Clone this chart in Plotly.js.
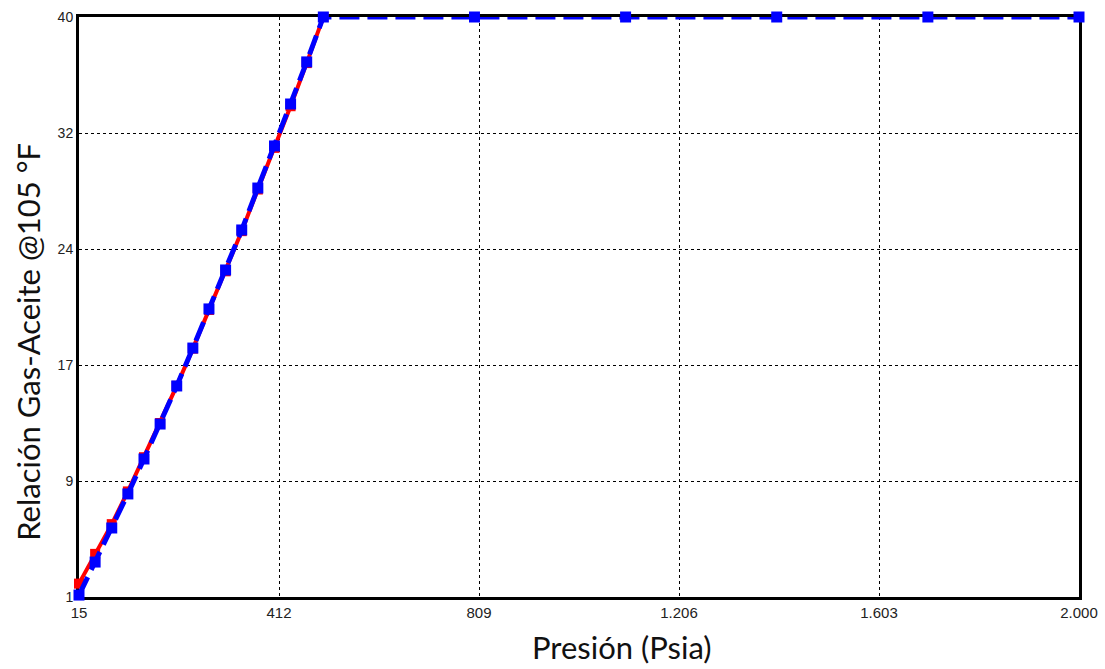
<!DOCTYPE html>
<html>
<head>
<meta charset="utf-8">
<script src="https://cdn.plot.ly/plotly-3.0.1.min.js"></script>
<style>html,body{margin:0;padding:0;background:#fff;}#chart{width:1105px;height:669px;}</style>
</head>
<body>
<div id="chart"></div>
<script>
const pressure = [15, 47, 80, 112, 144, 176, 209, 241, 273, 306, 338, 370, 403, 435, 467, 500, 800, 1100, 1400, 1700, 2000];
const redGOR  = [1.9, 3.9, 5.9, 8.1, 10.4, 12.7, 15.2, 17.7, 20.3, 22.9, 25.6, 28.4, 31.2, 34.0, 36.9, 40, 40, 40, 40, 40, 40];
const blueGOR = [1.13, 3.35, 5.64, 7.93, 10.28, 12.63, 15.19, 17.74, 20.37, 22.99, 25.68, 28.5, 31.33, 34.15, 36.98, 40, 40, 40, 40, 40, 40];
const xTickVals = [15, 412, 809, 1206, 1603, 2000];
const xTickText = ["15", "412", "809", "1.206", "1.603", "2.000"];
const yTickVals = [1, 8.8, 16.6, 24.4, 32.2, 40];
const yTickText = ["1", "9", "17", "24", "32", "40"];
const xTitle = 'Presión (Psia)';
const yTitle = 'Relación Gas-Aceite @105 °F';

// red series is hidden beneath the frame on the flat part; draw its rising part
const redX = pressure.filter(p => p <= 500);
const redY = redGOR.slice(0, redX.length);

const traces = [
  {x: redX, y: redY, type: 'scatter', mode: 'lines+markers',
   line: {color: '#ff0000', width: 4},
   marker: {symbol: 'square', size: 10, color: '#ff0000'},
   cliponaxis: false, showlegend: false},
  {x: pressure, y: blueGOR, type: 'scatter', mode: 'lines+markers',
   line: {color: '#0000ff', width: 5, dash: '20px,8px'},
   marker: {symbol: 'square', size: 11, color: '#0000ff'},
   cliponaxis: false, showlegend: false}
];

const titleFont = {family: 'Lato, Open Sans, sans-serif', size: 31, color: '#111'};

const layout = {
  width: 1105, height: 669,
  margin: {l: 79, r: 26, t: 17, b: 72},
  paper_bgcolor: '#fff', plot_bgcolor: '#fff',
  xaxis: {
    range: [15, 2000], tickmode: 'array', tickvals: xTickVals, ticktext: xTickText,
    showgrid: true, gridcolor: '#000', griddash: '3px,3px', gridwidth: 1,
    showline: true, linecolor: '#000', linewidth: 3, mirror: true, layer: 'below traces',
    zeroline: false, ticks: '', ticklen: 0,
    tickfont: {family: 'Liberation Sans Narrow, Arial Narrow, Liberation Sans, sans-serif', size: 15, color: '#222'}
  },
  yaxis: {
    range: [1, 40], tickmode: 'array', tickvals: yTickVals, ticktext: yTickText,
    showgrid: true, gridcolor: '#000', griddash: '3px,3px', gridwidth: 1,
    showline: true, linecolor: '#000', linewidth: 3, mirror: true, layer: 'below traces',
    zeroline: false, ticks: '', ticklen: 0,
    tickfont: {family: 'Liberation Sans, Arial, sans-serif', size: 14, color: '#222'}
  },
  annotations: [
    {text: xTitle, xref: 'paper', yref: 'paper', x: 0.543, y: 0, yshift: -50,
     xanchor: 'center', yanchor: 'middle', showarrow: false, font: titleFont},
    {text: yTitle, xref: 'paper', yref: 'paper', x: 0, xshift: -51, y: 0.44,
     xanchor: 'center', yanchor: 'middle', textangle: -90, showarrow: false, font: titleFont}
  ]
};

Plotly.newPlot('chart', traces, layout, {displayModeBar: false, staticPlot: true});
</script>
</body>
</html>
